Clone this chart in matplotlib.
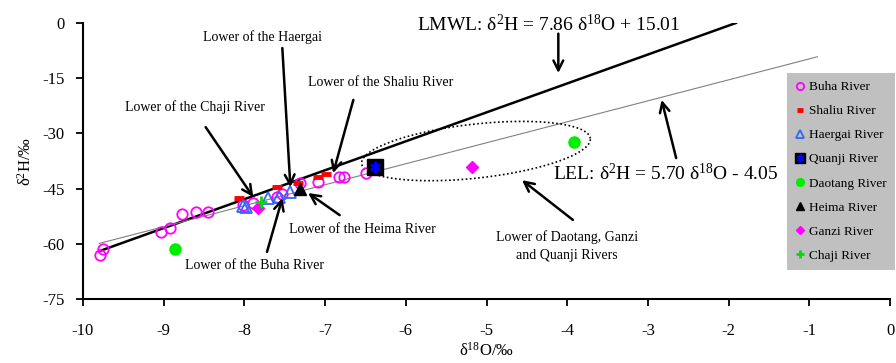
import numpy as np
import matplotlib
matplotlib.use("Agg")
import matplotlib.pyplot as plt

plt.rcParams['font.family'] = ['Liberation Serif', 'DejaVu Serif']
plt.rcParams['mathtext.fontset'] = 'stix'
plt.rcParams['axes.unicode_minus'] = False

# --- data (d18O, d2H) ---
buha_x = [-9.79, -9.75, -9.03, -8.92, -8.77, -8.60, -8.45, -8.02, -7.89,
          -7.60, -7.53, -7.31, -7.09, -6.83, -6.77, -6.49]
buha_y = [-63.0, -61.4, -56.8, -55.7, -51.8, -51.4, -51.4, -49.5, -48.9,
          -47.3, -46.5, -43.5, -43.2, -41.8, -41.8, -40.8]
shaliu_x = [-8.07, -7.60, -7.34, -7.09, -6.99]
shaliu_y = [-47.6, -44.6, -43.5, -41.8, -41.0]
haergai_x = [-8.02, -7.98, -7.71, -7.57, -7.43]
haergai_y = [-49.6, -50.0, -47.6, -47.3, -45.9]
quanji_x = [-6.38]
quanji_y = [-39.1]
daotang_x = [-8.86, -3.92]
daotang_y = [-61.4, -32.3]
heima_x = [-7.31]
heima_y = [-45.1]
ganzi_x = [-7.83, -5.18]
ganzi_y = [-50.3, -39.1]
chaji_x = [-7.79]
chaji_y = [-48.6]

lmwl_slope, lmwl_icpt = 7.86, 15.01
lel_slope, lel_icpt = 5.70, -4.05
lmwl_range = [-9.8, -1.91]
lel_range = [-9.8, -0.9]

x_ticks = list(range(-10, 1))
y_ticks = [0, -15, -30, -45, -60, -75]

fig = plt.figure(figsize=(8.96, 3.63), dpi=100)
ax = fig.add_axes([83 / 896, 1 - 299 / 363, 807 / 896, 276 / 363])

# regression lines
lx = np.array(lmwl_range)
ax.plot(lx, lmwl_slope * lx + lmwl_icpt, color='black', lw=1.8, zorder=2)
ex = np.array(lel_range)
ax.plot(ex, lel_slope * ex + lel_icpt, color='#808080', lw=0.8, zorder=2)

# dotted ellipse round the enriched samples
t = np.linspace(0, 2 * np.pi, 300)
a_px, b_px, th = 115, 27, np.deg2rad(6.3)
px = a_px * np.cos(t) * np.cos(th) - b_px * np.sin(t) * np.sin(th)
py = a_px * np.cos(t) * np.sin(th) + b_px * np.sin(t) * np.cos(th)
ax.plot(-5.13 + px / 80.7, -34.8 + py / 3.68, color='black', ls=(0, (1, 1.5)),
        lw=1.2, zorder=2)

h_buha, = ax.plot(buha_x, buha_y, 'o', mfc='none', mec='#FF00FF', ms=7.5,
                  mew=1.3, ls='none', zorder=3)
h_shaliu, = ax.plot(shaliu_x, shaliu_y, '_', color='#FF0000', ms=7, mew=3.5,
                    ls='none', zorder=3)
h_haergai, = ax.plot(haergai_x, haergai_y, '^', mfc='none', mec='#3366FF',
                     ms=8, mew=1.3, ls='none', zorder=3)
h_q1, = ax.plot(quanji_x, quanji_y, 's', color='black', ms=11, ls='none',
                zorder=4)
h_q2, = ax.plot(quanji_x, quanji_y, marker=(6, 2, 0), color='#0000FF', ms=8,
                mew=1.5, ls='none', zorder=5)
h_daotang, = ax.plot(daotang_x, daotang_y, 'o', color='#00EE00', ms=8,
                     ls='none', zorder=3)
h_heima, = ax.plot(heima_x, heima_y, '^', color='black', ms=9, ls='none',
                   zorder=3)
h_ganzi, = ax.plot(ganzi_x, ganzi_y, 'D', color='#FF00FF', ms=6.5,
                   ls='none', zorder=3)
h_chaji, = ax.plot(chaji_x, chaji_y, '+', color='#00DD00', ms=8, mew=2,
                   ls='none', zorder=3)

# annotations
arrow = dict(arrowstyle='->, head_length=0.7, head_width=0.35', lw=1.8,
             color='black', shrinkA=0, shrinkB=0)
ax.text(-4.23, -0.5, r'LMWL: $\mathregular{\delta^{2}}$H = 7.86 '
        r'$\mathregular{\delta^{18}}$O + 15.01', fontsize=14, ha='center',
        va='center', clip_on=False)
ax.annotate('', xy=(-4.11, -13.6), xytext=(-4.11, -2.9), arrowprops=arrow)
ax.text(-4.18, -40.8, r'LEL: $\mathregular{\delta^{2}}$H = 5.70 '
        r'$\mathregular{\delta^{18}}$O - 4.05', fontsize=14, ha='left',
        va='center')
ax.annotate('', xy=(-2.83, -20.9), xytext=(-2.65, -36.7), arrowprops=arrow)

labels = [
    ('Lower of the Haergai', (-7.77, -3.8), (-7.53, -6.8), (-7.43, -44.6)),
    ('Lower of the Shaliu River', (-6.31, -16.3), (-6.65, -20.9), (-6.90, -40.8)),
    ('Lower of the Chaji River', (-8.61, -22.8), (-8.48, -28.3), (-7.89, -47.3)),
    ('Lower of the Buha River', (-7.87, -66.0), (-7.72, -62.2), (-7.53, -47.6)),
    ('Lower of the Heima River', (-6.54, -56.0), (-6.82, -52.2), (-7.21, -46.2)),
    ('Lower of Daotang, Ganzi\nand Quanji Rivers', (-4.00, -60.6),
     (-3.93, -53.5), (-4.56, -42.7)),
]
for txt, pos, tail, head in labels:
    ax.text(pos[0], pos[1], txt, fontsize=10, ha='center', va='center',
            linespacing=1.5)
    ax.annotate('', xy=head, xytext=tail, arrowprops=arrow)

ax.set_xlim(-10, 0)
ax.set_ylim(-75, 0)
ax.set_xticks(x_ticks)
ax.set_yticks(y_ticks)
ax.tick_params(labelsize=12, width=1.3, length=5)
ax.tick_params(axis='x', pad=12)
ax.tick_params(axis='y', pad=8)
for s in ['top', 'right']:
    ax.spines[s].set_visible(False)
for s in ['left', 'bottom']:
    ax.spines[s].set_linewidth(1.5)
ax.set_xlabel(r'$\mathregular{\delta^{18}}$O/‰', fontsize=12, labelpad=2)
ax.set_ylabel(r'$\mathregular{\delta^{2}}$H/‰', fontsize=12, labelpad=6)

leg = ax.legend([h_buha, h_shaliu, h_haergai, (h_q1, h_q2), h_daotang,
                 h_heima, h_ganzi, h_chaji],
                ['Buha River', 'Shaliu River', 'Haergai River', 'Quanji River',
                 'Daotang River', 'Heima River', 'Ganzi River', 'Chaji River'],
                loc='upper left', bbox_to_anchor=(787 / 896, 1 - 73 / 363),
                bbox_transform=fig.transFigure, fontsize=9.5, markerscale=0.7,
                frameon=True, fancybox=False, framealpha=1,
                facecolor='#C0C0C0', edgecolor='none', borderaxespad=0,
                handlelength=0.8, handletextpad=0.3, labelspacing=0.9,
                borderpad=0.6)

fig.savefig('out.png', dpi=100)
